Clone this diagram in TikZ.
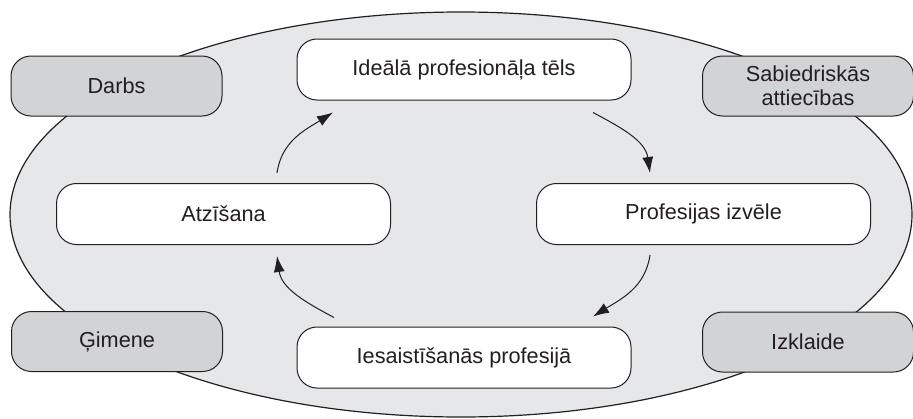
\documentclass[tikz,border=0pt]{standalone}
\usepackage{fontspec}
\setmainfont{Liberation Sans}
\usetikzlibrary{arrows.meta}
\definecolor{ink}{HTML}{231F20}
\definecolor{ringfill}{HTML}{E6E7E8}
\definecolor{sidefill}{HTML}{D1D3D4}
\begin{document}
\begin{tikzpicture}[x=1pt,y=-1pt,
  box/.style={draw=ink, line width=1pt, rounded corners=20pt,
    align=center, text=ink, inner sep=0pt,
    font=\fontsize{21.7}{24}\selectfont},
  stage/.style={box, fill=white, minimum width=334pt, minimum height=61pt},
  side/.style={box, fill=sidefill, minimum width=211pt, minimum height=60pt},
  flow/.style={draw=ink, line width=1pt, -{Latex[length=16pt,width=11pt]}}
]
\useasboundingbox (0,0) rectangle (913,418);

% surrounding life sphere
\draw[draw=ink, line width=1.2pt, fill=ringfill]
  (461,214.5) ellipse [x radius=451, y radius=202.5];

% outer spheres
\node[side] (darbs)   at (116.5,86)  {Darbs};
\node[side] (sab)     at (808,86)    {Sabiedriskās\\attiecības};
\node[side] (gimene)  at (117,341.5) {Ģimene};
\node[side] (izklaide) at (808,342)  {Izklaide};

% career cycle
\node[stage] (ideal) at (464,69.5)  {Ideālā profesionāļa tēls};
\node[stage] (atz)   at (223.5,214) {Atzīšana};
\node[stage] (prof)  at (703.5,214) {Profesijas izvēle};
\node[stage] (ies)   at (464,357.5) {Iesaistīšanās profesijā};

% cycle arrows
\draw[flow] ([shift={(53.5,-10)}]atz.north) to[out=82,in=212]
  ([shift={(-131,12)}]ideal.south);
\draw[flow] ([shift={(129,12)}]ideal.south) to[out=-28,in=98]
  ([shift={(-53.5,-10)}]prof.north);
\draw[flow] ([shift={(-53.5,10)}]prof.south) to[out=-98,in=32]
  ([shift={(129,-10)}]ies.north);
\draw[flow] ([shift={(-130,-9)}]ies.north) to[out=152,in=-82]
  ([shift={(53.5,11)}]atz.south);
\end{tikzpicture}
\end{document}
